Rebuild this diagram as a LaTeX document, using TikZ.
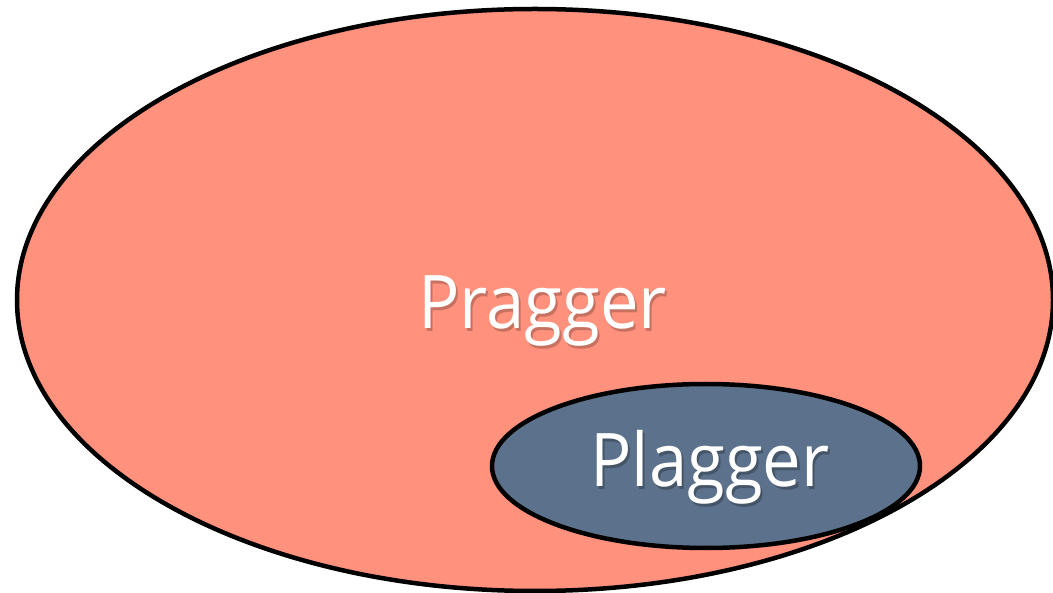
\documentclass[tikz,border=0pt]{standalone}
\usepackage{fontspec}
\setmainfont{Open Sans}
\definecolor{salmon}{HTML}{FF917D}
\definecolor{slate}{HTML}{5C718B}
\newcommand{\shadowed}[2]{\makebox[0pt][l]{\hspace{2.5pt}\raisebox{-3pt}{\textcolor{#1}{#2}}}#2}
\tikzset{
  blob/.style={draw=black, line width=4.5pt},
  lbl/.style={text=white, font=\fontsize{74}{84}\selectfont, anchor=base west, inner sep=0pt, xscale=0.93}
}
\begin{document}
\begin{tikzpicture}[x=1pt,y=-1pt]
\useasboundingbox (0,0) rectangle (1053,593);
\fill[white] (0,0) rectangle (1053,593);
\draw[blob, fill=salmon] (535,300) ellipse [x radius=518, y radius=291];
\draw[blob, fill=slate] (706,466) ellipse [x radius=214, y radius=82];
\node[lbl] (pr) at (418,329) {\shadowed{salmon!78!black}{Pragger}};
\node[lbl] (pl) at (590,487) {\shadowed{slate!75!black}{Plagger}};
\end{tikzpicture}
\end{document}
